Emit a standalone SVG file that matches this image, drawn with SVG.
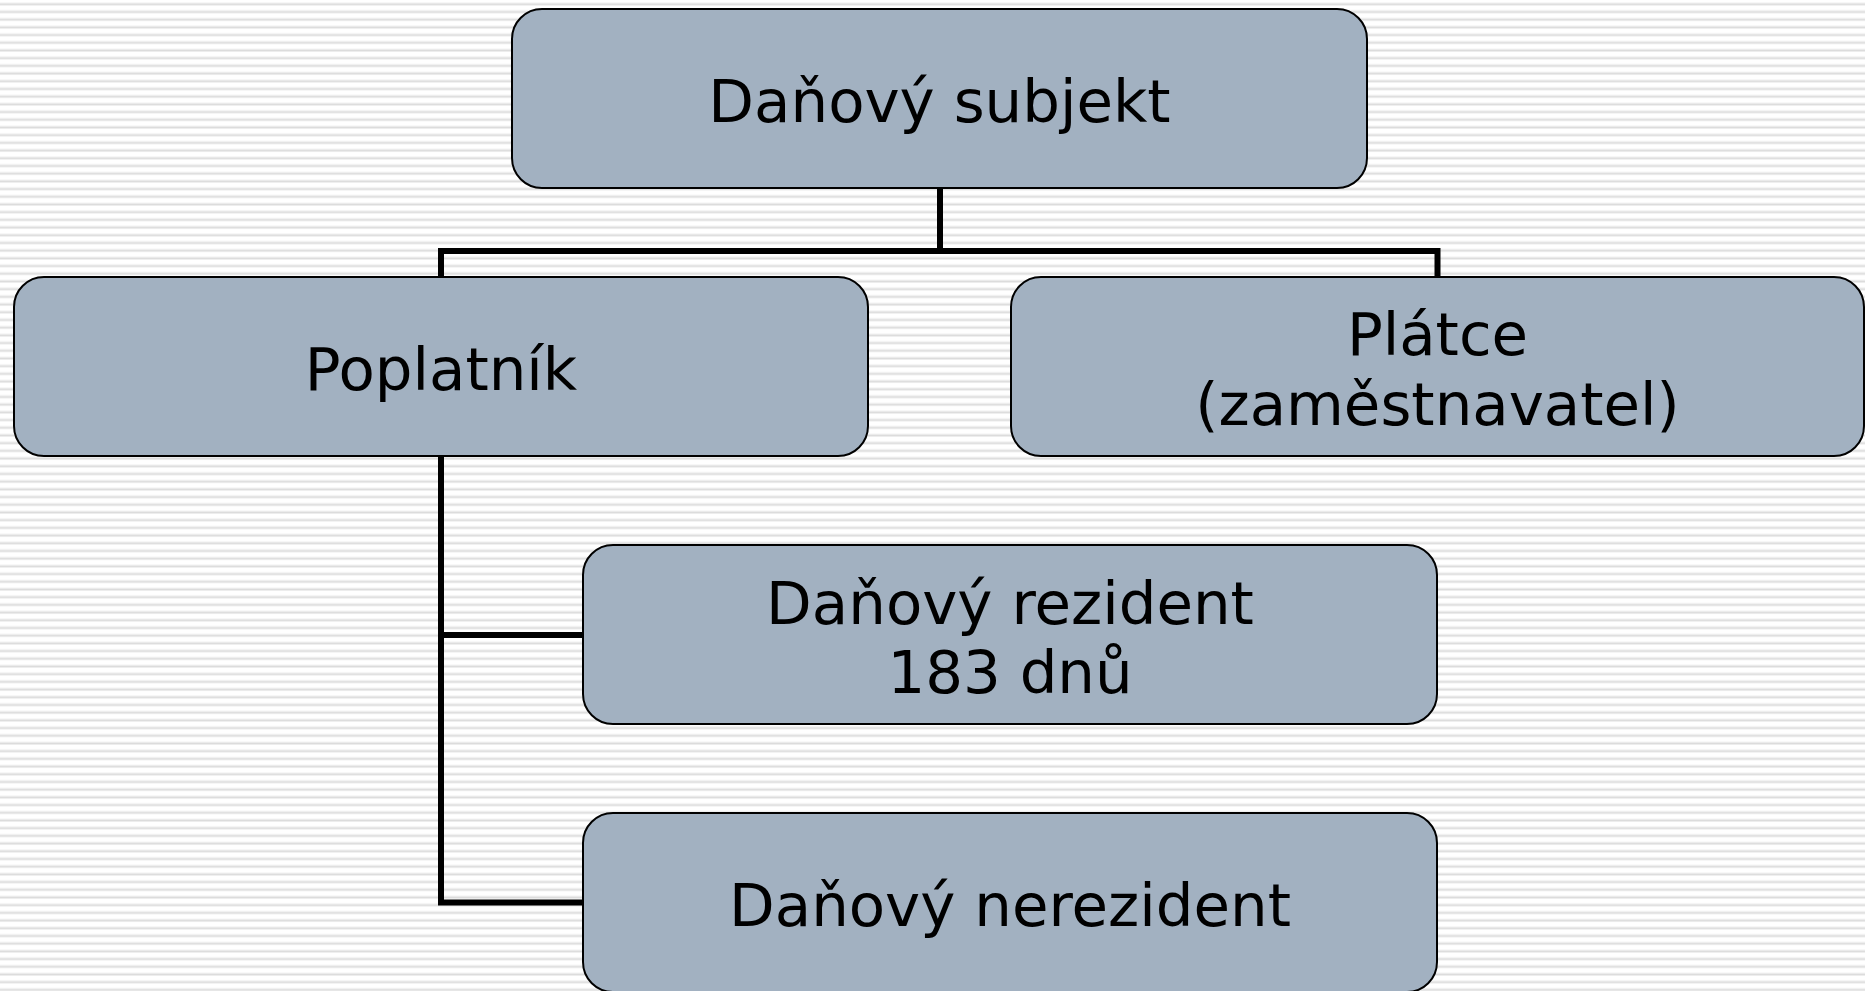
<svg xmlns="http://www.w3.org/2000/svg" width="1865" height="991" viewBox="0 0 1865 991">
  <defs>
    <pattern id="stripes" x="0" y="0" width="20" height="7.7" patternUnits="userSpaceOnUse">
      <rect x="0" y="0" width="20" height="7.7" fill="#ffffff"/>
      <rect x="0" y="2.6" width="20" height="1.2" fill="#eaeaea"/>
      <rect x="0" y="3.8" width="20" height="1.5" fill="#dcdcdc"/>
    </pattern>
  </defs>
  <style>
    .box { fill: #a2b1c1; stroke: #000000; stroke-width: 2; }
    .lbl { font-family: "DejaVu Sans", Verdana, sans-serif; font-size: 59.4px; fill: #000000; text-anchor: middle; }
    .conn { fill: none; stroke: #000000; stroke-width: 6; stroke-linecap: square; stroke-linejoin: miter; }
  </style>
  <rect x="0" y="0" width="1865" height="991" fill="url(#stripes)"/>

  <g id="connectors">
    <path class="conn" d="M940 188 V251"/>
    <path class="conn" d="M441 276 V251 H1437.5 V276"/>
    <path class="conn" d="M441 456 V902.5 H583"/>
    <path class="conn" d="M441 635 H583"/>
  </g>

  <g id="node-danovy-subjekt">
    <rect class="box" x="512" y="9" width="855" height="179" rx="30" ry="30"/>
    <text class="lbl" x="939.5" y="121.5">Daňový subjekt</text>
  </g>

  <g id="node-poplatnik">
    <rect class="box" x="14" y="277" width="854" height="179" rx="30" ry="30"/>
    <text class="lbl" x="441" y="390">Poplatník</text>
  </g>

  <g id="node-platce">
    <rect class="box" x="1011" y="277" width="853" height="179" rx="30" ry="30"/>
    <text class="lbl" x="1437.5" y="355">Plátce</text>
    <text class="lbl" x="1437.5" y="425">(zaměstnavatel)</text>
  </g>

  <g id="node-rezident">
    <rect class="box" x="583" y="545" width="854" height="179" rx="30" ry="30"/>
    <text class="lbl" x="1010" y="624">Daňový rezident</text>
    <text class="lbl" x="1010" y="693">183 dnů</text>
  </g>

  <g id="node-nerezident">
    <rect class="box" x="583" y="813" width="854" height="179" rx="30" ry="30"/>
    <text class="lbl" x="1010" y="926">Daňový nerezident</text>
  </g>
</svg>
